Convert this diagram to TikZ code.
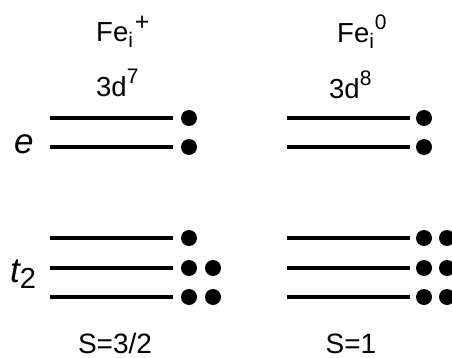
\documentclass[tikz,border=0pt]{standalone}
\usepackage{fontspec}
\setmainfont{Liberation Sans}
\newcommand\lsub[1]{\raisebox{-6pt}{\fontsize{21}{21}\selectfont #1}}
\newcommand\lsup[1]{\raisebox{13pt}{\fontsize{21}{21}\selectfont #1}}
\begin{document}
\begin{tikzpicture}[x=1pt,y=-1pt,
  level/.style={line width=3.6pt},
  electron/.style={circle,fill=black,inner sep=0pt,minimum size=16pt},
  lbl/.style={anchor=base west,inner sep=0pt,font=\fontsize{27.5}{30}\selectfont},
  sym/.style={anchor=base west,inner sep=0pt,font=\fontsize{35}{38}\selectfont\itshape},
  spin/.style={anchor=base,inner sep=0pt,font=\fontsize{28}{32}\selectfont},
]
\useasboundingbox (0,0) rectangle (452,358);

% headers
\node[lbl] (fep) at (96,42) {Fe\lsub{i}\kern2pt\raisebox{11pt}{\fontsize{25}{25}\selectfont +}};
\node[lbl] (fe0) at (337,43) {Fe\lsub{i}\kern1pt\lsup{0}};
\node[lbl] (d7) at (96,97) {3d\lsup{7}};
\node[lbl] (d8) at (329,99) {3d\lsup{8}};

% symmetry labels
\node[sym] (e) at (14,154) {e};
\node[sym] (t2) at (10,282) {t\lsub{\upshape\fontsize{29}{30}\selectfont 2}};

% spin labels
\node[spin] (s32) at (115,353) {S=3/2};
\node[spin] (s1) at (351,353) {S=1};

% levels
\foreach \y in {118,147,238,268,297} {
  \draw[level] (50,\y) -- (173,\y);
  \draw[level] (287,\y) -- (410,\y);
}

% electrons, left (3d7)
\node[electron] (la1) at (189,118) {};
\node[electron] (la2) at (189,147) {};
\node[electron] (lb1) at (189,238) {};
\node[electron] (lb2) at (189,268) {};
\node[electron] (lb3) at (213,268) {};
\node[electron] (lb4) at (189,297) {};
\node[electron] (lb5) at (213,297) {};

% electrons, right (3d8)
\node[electron] (ra1) at (424,118) {};
\node[electron] (ra2) at (424,147) {};
\node[electron] (rb1) at (424,238) {};
\node[electron] (rb2) at (447,238) {};
\node[electron] (rb3) at (424,268) {};
\node[electron] (rb4) at (447,268) {};
\node[electron] (rb5) at (424,297) {};
\node[electron] (rb6) at (447,297) {};
\end{tikzpicture}
\end{document}
